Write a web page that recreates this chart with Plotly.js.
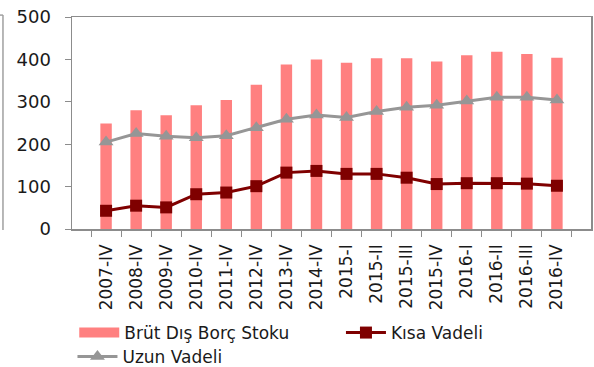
<!DOCTYPE html>
<html>
<head>
<meta charset="utf-8">
<script src="https://cdn.plot.ly/plotly-3.0.1.min.js"></script>
<style>
  html, body { margin: 0; padding: 0; background: #fff; }
  #chart { width: 594px; height: 367px; }
</style>
</head>
<body>
<div id="chart"></div>
<script>
// Quarterly external debt stock (billion), with short- and long-term parts
const periods = ["2007-IV", "2008-IV", "2009-IV", "2010-IV", "2011-IV", "2012-IV",
  "2013-IV", "2014-IV", "2015-I", "2015-II", "2015-III", "2015-IV",
  "2016-I", "2016-II", "2016-III", "2016-IV"];
const grossDebt = [249, 280, 268, 292, 304, 340, 388, 400, 392, 403, 403, 395, 410, 418, 413, 404];
const shortTerm = [43, 55, 51, 82, 86, 101, 133, 137, 130, 130, 121, 106, 108, 108, 107, 102];
const longTerm = [205, 225, 219, 215, 220, 239, 259, 269, 263, 277, 287, 292, 302, 311, 311, 304];

const names = ["Brüt Dış Borç Stoku", "Kısa Vadeli", "Uzun Vadeli"];
const barColor = "#ff8080";
const shortColor = "#7f0000";
const longColor = "#969696";
const fontFamily = "DejaVu Sans, sans-serif";
const textColor = "#1a1a1a";
const axisColor = "#8c8c8c";

const traces = [
  {
    type: "bar", x: periods, y: grossDebt, name: names[0],
    marker: { color: barColor }, showlegend: false, legendgroup: "gross",
    hoverinfo: "x+y"
  },
  // legend swatch for the bar series, drawn as a wide band
  {
    type: "scatter", mode: "lines", x: [null], y: [null], name: names[0],
    line: { color: barColor, width: 10 }, legendgroup: "gross", hoverinfo: "skip",
    legend: "legend"
  },
  {
    type: "scatter", mode: "lines+markers", x: periods, y: shortTerm, name: names[1],
    line: { color: shortColor, width: 3 },
    marker: { symbol: "square", size: 12, color: shortColor },
    legend: "legend2"
  },
  {
    type: "scatter", mode: "lines+markers", x: periods, y: longTerm, name: names[2],
    line: { color: longColor, width: 3 },
    marker: { symbol: "triangle-up", size: 13, color: longColor },
    legend: "legend3"
  }
];

const legendFont = { size: 17, family: fontFamily, color: textColor };
// legends placed in container coordinates (x, y as fractions of the 594x367 page)
function legendAt(x, y) {
  return {
    orientation: "h", xref: "container", yref: "container",
    x: x, xanchor: "left", y: y, yanchor: "middle",
    font: legendFont, itemwidth: 40, bgcolor: "rgba(0,0,0,0)"
  };
}

const layout = {
  width: 594, height: 367,
  margin: { l: 72, r: 3, t: 17, b: 138 },
  paper_bgcolor: "#fff", plot_bgcolor: "#fff",
  font: { family: fontFamily, color: textColor, size: 17 },
  bargap: 0.62,
  showlegend: true,
  xaxis: {
    type: "category", tickangle: -90, tickson: "boundaries",
    ticks: "outside", ticklen: 6, tickcolor: axisColor,
    showline: true, linecolor: axisColor, linewidth: 1.5, mirror: true,
    showgrid: false, automargin: false,
    tickfont: { size: 17, family: fontFamily, color: textColor },
    ticklabelstandoff: 7
  },
  yaxis: {
    range: [0, 500], dtick: 100, tick0: 0,
    ticks: "outside", ticklen: 6, tickcolor: axisColor,
    showline: true, linecolor: axisColor, linewidth: 1.5, mirror: true,
    showgrid: false, zeroline: false, automargin: false,
    tickfont: { size: 18, family: fontFamily, color: textColor },
    ticklabelstandoff: 10
  },
  legend: legendAt(0.125, 0.0926),
  legend2: legendAt(0.574, 0.0926),
  legend3: legendAt(0.122, 0.0272),
  shapes: [
    { type: "line", xref: "paper", yref: "paper", x0: -0.133, x1: -0.133, y0: 1.009, y1: -0.005,
      line: { color: "#a0a0a0", width: 1.5 } },
    { type: "line", xref: "paper", yref: "paper", x0: -0.14, x1: -0.133, y0: 1.009, y1: 1.009,
      line: { color: "#a0a0a0", width: 1.5 } }
  ]
};

Plotly.newPlot("chart", traces, layout, { displayModeBar: false, staticPlot: true });
</script>
</body>
</html>
